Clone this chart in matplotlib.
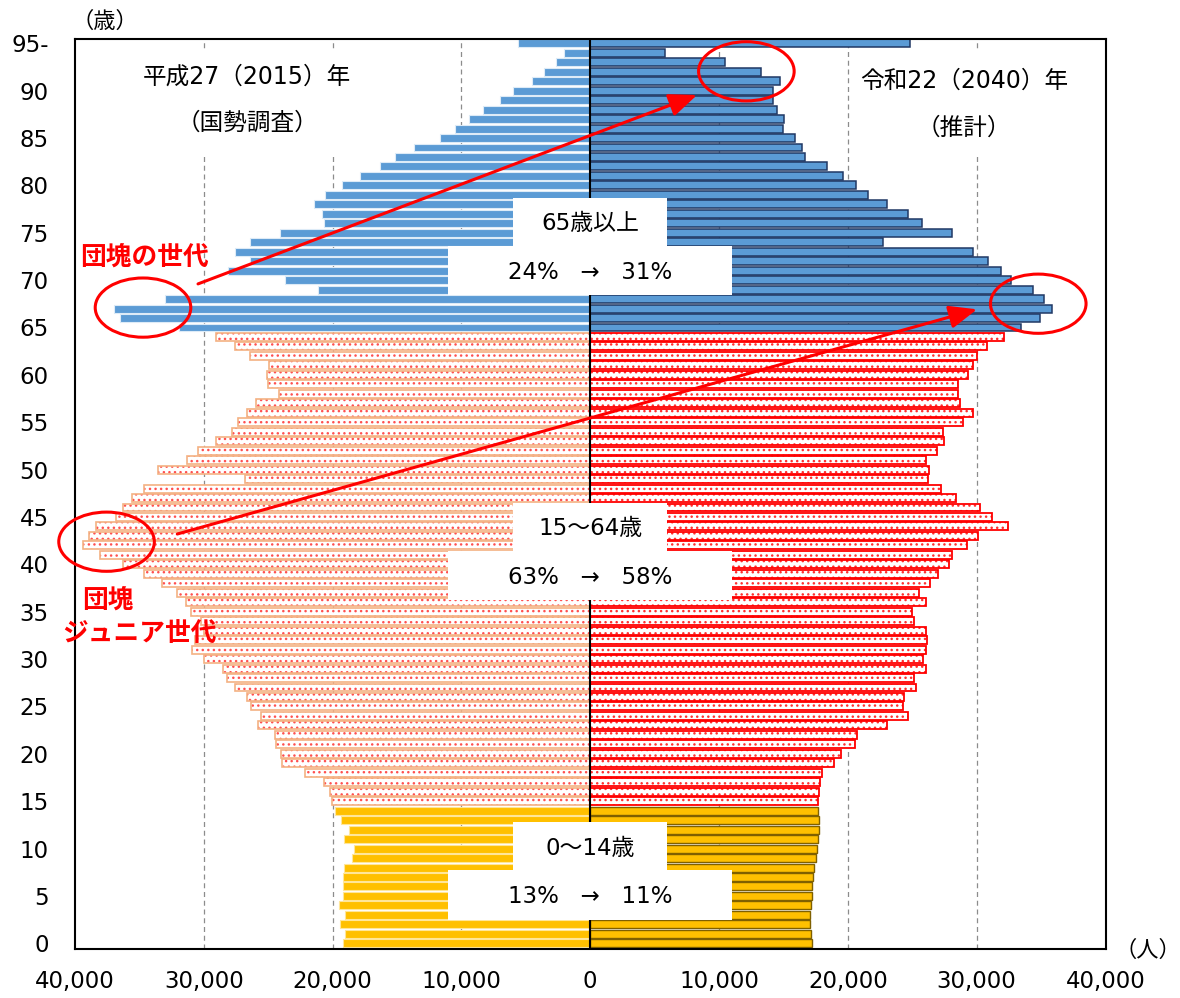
import numpy as np
import matplotlib.pyplot as plt
from matplotlib.patches import Rectangle, Ellipse

plt.rcParams['font.family'] = ['DejaVu Sans', 'Noto Sans CJK JP']
plt.rcParams['hatch.linewidth'] = 1.0

# population by single year of age (index = age, 95 = 95 and over)
ages = np.arange(96)
pop_2015 = np.array([
    19220, 19060, 19410, 19060, 19470, 19220, 19220, 19220, 19140, 18470,
    18340, 19120, 18740, 19360, 19820, 20030, 20220, 20670, 22150, 23900,
    23980, 24380, 24510, 25780, 25530, 26310, 26640, 27550, 28220, 28490,
    30000, 30900, 30700, 30000, 30200, 30960, 31410, 32090, 33240, 34640,
    36270, 38070, 39360, 38880, 38400, 36780, 36270, 35600, 34660, 26800,
    33590, 31280, 30470, 29080, 27820, 27330, 26640, 25910, 24170, 25000,
    25130, 24920, 26390, 27550, 29080, 31900, 36520, 37000, 33030, 21100,
    23710, 28140, 26390, 27550, 26390, 24110, 20680, 20840, 21430, 20570,
    19250, 17860, 16300, 15170, 13690, 11630, 10470, 9400, 8320, 7010,
    5990, 4510, 3620, 2690, 2040, 5590])
pop_2040 = np.array([
    17200, 17150, 17070, 17070, 17120, 17200, 17250, 17320, 17400, 17530,
    17590, 17660, 17760, 17720, 17660, 17710, 17760, 17840, 17970, 18930,
    19450, 20560, 20740, 23020, 24640, 24310, 24360, 25260, 25160, 26040,
    25860, 26040, 26120, 26070, 25160, 24950, 26070, 25550, 26380, 27020,
    27850, 28060, 29220, 30130, 32450, 31160, 30260, 28390, 27200, 26200,
    26300, 26040, 26950, 27460, 27410, 28910, 29690, 28700, 28580, 28580,
    29300, 29690, 30050, 30770, 32120, 33410, 34940, 35820, 35220, 34370,
    32630, 31910, 30870, 29680, 22690, 28050, 25770, 24680, 23000, 21550,
    20640, 19610, 18390, 16710, 16470, 15930, 14970, 15020, 14500, 14190,
    14190, 14710, 13290, 10440, 5780, 24800])

group_names = ['65歳以上', '15～64歳', '0～14歳']
share_2015 = [24, 63, 13]
share_2040 = [31, 58, 11]

ytick_ages = list(range(0, 96, 5))
ytick_labels = [str(a) for a in ytick_ages[:-1]] + ['95-']
xtick_vals = list(range(-40000, 40001, 10000))

fig = plt.figure(figsize=(11.8, 9.98), dpi=100)
ax = fig.add_axes([75 / 1180, 1 - 949 / 998, 1030.5 / 1180, 910 / 998])
ax.set_xlim(-40000, 40000)
ax.set_ylim(-0.6, 95.45)

young = ages < 15
work = (ages >= 15) & (ages < 65)
old = ages >= 65
H = 0.84

# 2015 (left)
ax.barh(ages[old], -pop_2015[old], height=H, color='#5B9BD5',
        edgecolor='#DDEBF7', lw=0.8, zorder=2)
ax.barh(ages[young], -pop_2015[young], height=H, color='#FFC000',
        edgecolor='#FFE699', lw=0.8, zorder=2)
ax.barh(ages[work], -pop_2015[work], height=H, color='white',
        edgecolor='#FF5050', hatch='...', lw=0, zorder=2)
ax.barh(ages[work], -pop_2015[work], height=H, color='none',
        edgecolor='#F4B183', lw=1.2, zorder=2.1)

# 2040 (right)
ax.barh(ages[old], pop_2040[old], height=H, color='#5B9BD5',
        edgecolor='#203864', lw=1.1, zorder=2)
ax.barh(ages[young], pop_2040[young], height=H, color='#FFC000',
        edgecolor='#7F6000', lw=1.0, zorder=2)
ax.barh(ages[work], pop_2040[work], height=H, color='white',
        edgecolor='#FF3030', hatch='...', lw=0, zorder=2)
ax.barh(ages[work], pop_2040[work], height=H, color='none',
        edgecolor='#FF0000', lw=1.3, zorder=2.1)

ax.axvline(0, color='black', lw=1.5, zorder=2.5)
for v in [-30000, -20000, -10000, 10000, 20000, 30000]:
    ax.axvline(v, color='#8C8C8C', lw=0.9, ls=(0, (4, 3)), zorder=0.5)

# white label boxes over the pyramid
box_tops = [78.7, 46.5, 12.8]
for name, a, b, top in zip(group_names, share_2015, share_2040, box_tops):
    ax.add_patch(Rectangle((-5980, top - 5.05), 11960, 5.05, facecolor='white',
                           edgecolor='none', zorder=3))
    ax.add_patch(Rectangle((-11030, top - 10.3), 22060, 5.25, facecolor='white',
                           edgecolor='none', zorder=3))
    ax.text(0, top - 2.75, name, ha='center', va='center', fontsize=16.5, zorder=4)
    ax.text(0, top - 7.85, f'{a}%   →   {b}%', ha='center', va='center',
            fontsize=16.5, zorder=4)

# year captions
ax.add_patch(Rectangle((-35340, 83.2), 17480, 11.1, facecolor='white',
                       edgecolor='none', zorder=1))
ax.add_patch(Rectangle((20190, 83.0), 17480, 11.1, facecolor='white',
                       edgecolor='none', zorder=1))
ax.text(-26640, 91.47, '平成27（2015）年', ha='center', va='center', fontsize=17)
ax.text(-26640, 86.64, '（国勢調査）', ha='center', va='center', fontsize=17)
ax.text(29010, 91.04, '令和22（2040）年', ha='center', va='center', fontsize=17)
ax.text(29010, 86.1, '（推計）', ha='center', va='center', fontsize=17)

# generation callouts
ax.text(-39610, 72.3, '団塊の世代', color='red', fontsize=18.5,
        fontweight='bold', ha='left', va='center', zorder=6)
ax.text(-39460, 36.1, '団塊', color='red', fontsize=18.5,
        fontweight='bold', ha='left', va='center', zorder=6)
ax.text(-41010, 32.6, 'ジュニア世代', color='red', fontsize=18.5,
        fontweight='bold', ha='left', va='center', zorder=6)

for cx, cy in [(-34720, 67.1), (12120, 92.04), (34780, 67.51), (-37550, 42.39)]:
    ax.add_patch(Ellipse((cx, cy), 7420, 6.25, fill=False, edgecolor='red',
                         lw=2.2, zorder=5, clip_on=False))

arrow_style = dict(arrowstyle='-|>,head_length=0.85,head_width=0.35', color='red',
                   lw=2.2, shrinkA=0, shrinkB=0, mutation_scale=20)
ax.annotate('', xy=(8290, 89.54), xytext=(-30450, 69.6),
            arrowprops=arrow_style, zorder=5)
ax.annotate('', xy=(30030, 66.92), xytext=(-32060, 43.2),
            arrowprops=arrow_style, zorder=5)

ax.set_yticks(ytick_ages)
ax.set_yticklabels(ytick_labels)
ax.set_xticks(xtick_vals)
ax.set_xticklabels([f'{abs(v):,}' for v in xtick_vals])
ax.tick_params(axis='both', length=0, labelsize=16.5)
ax.tick_params(axis='y', pad=19)
ax.tick_params(axis='x', pad=15)
for s in ax.spines.values():
    s.set_linewidth(1.5)
    s.set_color('black')

fig.text(105 / 1180, 1 - 21 / 998, '（歳）', ha='center', va='center', fontsize=16)
fig.text(1148 / 1180, 1 - 950 / 998, '（人）', ha='center', va='center', fontsize=16)

fig.savefig('out.png', dpi=100)
